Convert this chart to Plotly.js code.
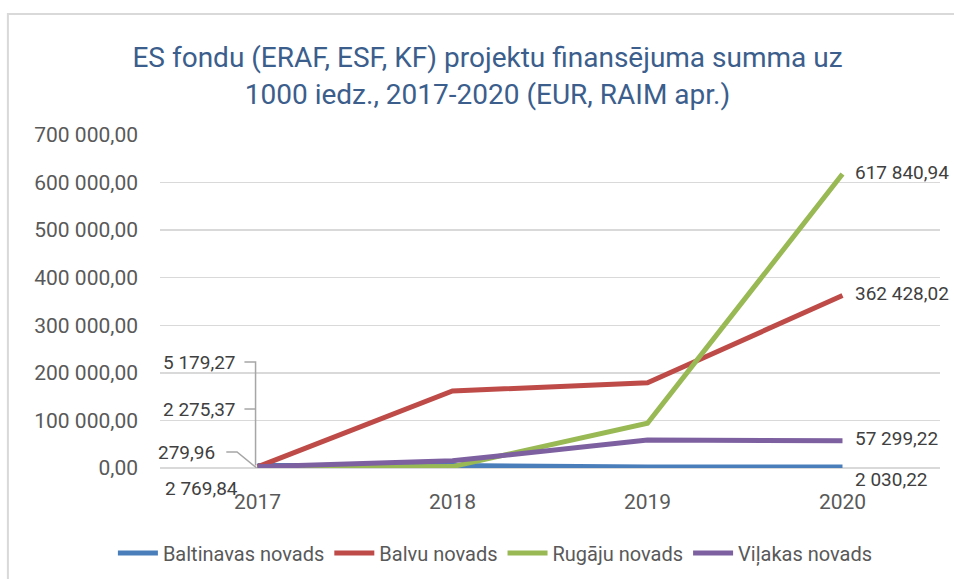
<!DOCTYPE html>
<html>
<head>
<meta charset="utf-8">
<script src="https://cdn.plot.ly/plotly-3.0.1.min.js"></script>
<style>
html,body{margin:0;padding:0;background:#fff;}
#chart{width:954px;height:579px;}
</style>
</head>
<body>
<div id="chart"></div>
<script>
const years = ["2017", "2018", "2019", "2020"];
const seriesNames = ["Baltinavas novads", "Balvu novads", "Rugāju novads", "Viļakas novads"];
const baltinavas = [5179.27, 5000, 2000, 2030.22];
const balvu = [2275.37, 162000, 179000, 362428.02];
const rugaju = [279.96, 3000, 94000, 617840.94];
const vilakas = [2769.84, 15000, 59000, 57299.22];
const colors = ["#4A7EBB", "#BE4B48", "#98B954", "#7D60A0"];
const titleText = "ES fondu (ERAF, ESF, KF) projektu finansējuma summa uz<br>1000 iedz., 2017-2020 (EUR, RAIM apr.)";

const FONT = "Roboto, 'Noto Sans', sans-serif";
const allSeries = [baltinavas, balvu, rugaju, vilakas];

function fmt(v) {
  const s = v.toFixed(2).split(".");
  const intPart = s[0].replace(/\B(?=(\d{3})+(?!\d))/g, " ");
  return intPart + "," + s[1];
}

const traces = allSeries.map((vals, i) => ({
  type: "scatter",
  mode: "lines",
  x: years,
  y: vals,
  name: seriesNames[i],
  line: {color: colors[i], width: 5},
  hoverinfo: "x+y+name"
}));

const annotations = [];
const lastIdx = years.length - 1;
allSeries.forEach((vals, i) => {
  const last = vals[lastIdx];
  annotations.push({
    x: lastIdx, y: last, xref: "x", yref: "y",
    text: fmt(last), showarrow: false,
    xanchor: "left", yanchor: "middle",
    xshift: 10, yshift: (i === 0 ? -12 : 2),
    font: {family: FONT, size: 19, color: "#404040"}
  });
});

const firstLabelY = [222700, 124000, 33600, 0];
const firstLabelX = [-0.1, -0.1, -0.21, -0.09];
const firstLabelShift = [0, 0, 0, -20];
allSeries.forEach((vals, i) => {
  annotations.push({
    x: firstLabelX[i], y: firstLabelY[i], xref: "x", yref: "y",
    text: fmt(vals[0]), showarrow: false,
    xanchor: "right", yanchor: "middle",
    yshift: firstLabelShift[i],
    font: {family: FONT, size: 19, color: "#404040"}
  });
});

const lc = "#A6A6A6";
const shapes = [
  {type: "rect", xref: "paper", yref: "paper", x0: -0.195, x1: 1.2, y0: -0.6, y1: 1.363,
   line: {color: "#D9D9D9", width: 2}, layer: "below"},
  {type: "path", xref: "x", yref: "y",
   path: "M -0.067," + firstLabelY[0] + " H -0.01 V " + baltinavas[0],
   line: {color: lc, width: 1.5}},
  {type: "path", xref: "x", yref: "y",
   path: "M -0.067," + firstLabelY[1] + " H -0.01",
   line: {color: lc, width: 1.5}},
  {type: "path", xref: "x", yref: "y",
   path: "M -0.16," + firstLabelY[2] + " H -0.105 L -0.005," + rugaju[0],
   line: {color: lc, width: 1.5}},
  {type: "path", xref: "x", yref: "y",
   path: "M -0.09,-42000 H -0.04 L -0.005," + (vilakas[0] - 3000),
   line: {color: lc, width: 1.5}}
];

const layout = {
  width: 954, height: 579,
  margin: {l: 160, r: 14, t: 135, b: 111, autoexpand: false},
  paper_bgcolor: "#FFFFFF",
  plot_bgcolor: "#FFFFFF",
  separators: ", ",
  title: {
    text: titleText,
    font: {family: FONT, size: 28, color: "#3B5E8C"},
    x: 0.511, xanchor: "center", xref: "container",
    y: 0.884, yanchor: "middle", yref: "container"
  },
  xaxis: {
    type: "category",
    range: [-0.5, 3.5],
    showgrid: false,
    zeroline: false,
    showline: false,
    ticks: "",
    automargin: false,
    ticklabelstandoff: 19,
    tickfont: {family: FONT, size: 21, color: "#595959"}
  },
  yaxis: {
    range: [0, 700000],
    tickvals: [0, 100000, 200000, 300000, 400000, 500000, 600000, 700000],
    tickformat: ",.2f",
    showgrid: true,
    gridcolor: "#D9D9D9",
    gridwidth: 1.5,
    zeroline: true,
    zerolinecolor: "#D9D9D9",
    zerolinewidth: 1.5,
    showline: false,
    ticks: "",
    automargin: false,
    ticklabelstandoff: 21,
    tickfont: {family: FONT, size: 21, color: "#595959"}
  },
  legend: {
    orientation: "h",
    x: 0.43, xanchor: "center",
    y: -0.255, yanchor: "middle",
    font: {family: FONT, size: 20, color: "#595959"},
    itemwidth: 40,
    tracegroupgap: 0
  },
  annotations: annotations,
  shapes: shapes,
  showlegend: true
};

Plotly.newPlot("chart", traces, layout, {displayModeBar: false, staticPlot: true});
</script>
</body>
</html>
